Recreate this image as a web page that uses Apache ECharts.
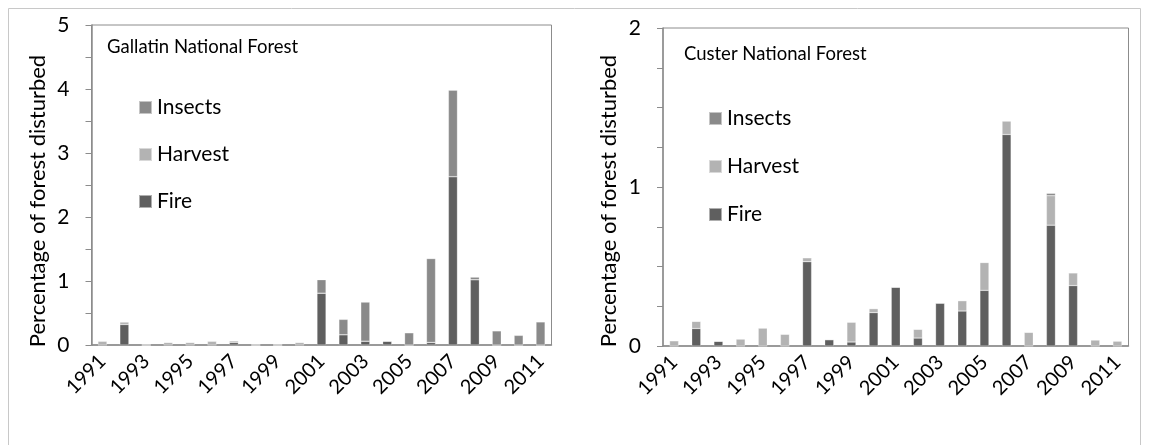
<!DOCTYPE html>
<html>
<head>
<meta charset="utf-8">
<script src="https://cdn.jsdelivr.net/npm/echarts@6/dist/echarts.min.js"></script>
<style>
html,body{margin:0;padding:0;background:#fff;}
#chart{width:1149px;height:445px;}
</style>
</head>
<body>
<div id="chart"></div>
<script>
var years = ['1991','1992','1993','1994','1995','1996','1997','1998','1999','2000','2001','2002','2003','2004','2005','2006','2007','2008','2009','2010','2011'];
var seriesNames = ['Insects','Harvest','Fire'];
var titleLeft = 'Gallatin National Forest';
var titleRight = 'Custer National Forest';
var yAxisTitle = 'Percentage of forest disturbed';

// Gallatin National Forest
var fireG    = [0, 0.32, 0, 0, 0, 0, 0.04, 0, 0, 0, 0.81, 0.16, 0.06, 0.06, 0, 0.04, 2.63, 1.02, 0, 0, 0];
var harvestG = [0.06, 0.04, 0, 0.04, 0.04, 0.06, 0.025, 0, 0, 0.04, 0, 0, 0, 0, 0, 0, 0, 0, 0, 0, 0];
var insectsG = [0, 0, 0, 0, 0, 0, 0, 0, 0, 0, 0.21, 0.24, 0.61, 0, 0.19, 1.31, 1.35, 0.04, 0.22, 0.15, 0.36];

// Custer National Forest
var fireC    = [0, 0.11, 0.03, 0, 0, 0, 0.53, 0.04, 0.025, 0.21, 0.37, 0.05, 0.27, 0.22, 0.35, 1.33, 0, 0.76, 0.38, 0, 0];
var harvestC = [0.033, 0.045, 0, 0.044, 0.113, 0.074, 0.025, 0, 0.125, 0.025, 0, 0.055, 0, 0.065, 0.175, 0.085, 0.086, 0.185, 0.08, 0.038, 0.031];
var insectsC = [0, 0, 0, 0, 0, 0, 0, 0, 0, 0, 0, 0, 0, 0, 0, 0, 0, 0.015, 0, 0, 0];

var colors = {Insects:'#8a8a8a', Harvest:'#b3b3b3', Fire:'#5f5f5f'};
var FONT = 'Lato, "Open Sans", sans-serif';
var axisGray = '#8c8c8c';

function xAxis(gi){
  return {
    type:'category', gridIndex:gi, data:years, boundaryGap:true,
    axisLine:{lineStyle:{color:axisGray,width:1.5}},
    axisTick:{interval:0, length:6, lineStyle:{color:axisGray}},
    axisLabel:{interval:1, rotate:45, color:'#000', fontFamily:FONT, fontSize:20, margin:13}
  };
}
function yAxis(gi,max,interval){
  return {
    type:'value', gridIndex:gi, min:0, max:max, interval:interval,
    axisLine:{show:true, lineStyle:{color:axisGray,width:1.5}},
    axisTick:{show:true, length:6, lineStyle:{color:axisGray}},
    splitLine:{show:false},
    axisLabel:{color:'#000', fontFamily:FONT, fontSize:21, margin:22,
      formatter:function(v){ return Math.abs(v-Math.round(v))<1e-9 ? String(Math.round(v)) : ''; }}
  };
}
function bars(gi, fire, harvest, insects){
  var defs = [['Fire',fire],['Harvest',harvest],['Insects',insects]];
  return defs.map(function(d){
    return {
      name:d[0], type:'bar', stack:'s'+gi, xAxisIndex:gi, yAxisIndex:gi,
      barWidth:9, data:d[1],
      itemStyle:{color:colors[d[0]], borderColor:'rgba(255,255,255,0.5)', borderWidth:0.5},
      emphasis:{disabled:true}
    };
  });
}
function yTitle(x){
  return {type:'text', x:x, y:201, rotation:Math.PI/2, silent:true,
    style:{text:yAxisTitle, fill:'#000', font:'22px ' + FONT, align:'center', verticalAlign:'middle'}};
}

var chart = echarts.init(document.getElementById('chart'), null, {renderer:'canvas'});
chart.setOption({
  animation:false,
  backgroundColor:'#fff',
  graphic:[
    {type:'rect', shape:{x:8.5,y:8.5,width:1132,height:460}, style:{fill:'none', stroke:'#c8c8c8', lineWidth:1}, silent:true},
    yTitle(38), yTitle(609)
  ],
  title:[
    {text:titleLeft, left:102, top:33, textStyle:{color:'#000', fontFamily:FONT, fontSize:18.5, fontWeight:'normal'}},
    {text:titleRight, left:679, top:40, textStyle:{color:'#000', fontFamily:FONT, fontSize:18.5, fontWeight:'normal'}}
  ],
  legend:[
    {orient:'vertical', left:133, top:92, itemWidth:13, itemHeight:13, itemGap:26, icon:'rect',
     data:seriesNames, selectedMode:false,
     textStyle:{color:'#000', fontFamily:FONT, fontSize:21, lineHeight:21}},
    {orient:'vertical', left:703, top:103, itemWidth:13, itemHeight:13, itemGap:27, icon:'rect',
     data:seriesNames, selectedMode:false,
     textStyle:{color:'#000', fontFamily:FONT, fontSize:21, lineHeight:21}}
  ],
  grid:[
    {left:91.5, top:25, width:460, height:320, show:true, borderColor:axisGray, borderWidth:1, containLabel:false},
    {left:663, top:28, width:465.5, height:318, show:true, borderColor:axisGray, borderWidth:1, containLabel:false}
  ],
  xAxis:[xAxis(0), xAxis(1)],
  yAxis:[yAxis(0,5,0.5), yAxis(1,2,0.25)],
  series: bars(0, fireG, harvestG, insectsG).concat(bars(1, fireC, harvestC, insectsC))
});
</script>
</body>
</html>
